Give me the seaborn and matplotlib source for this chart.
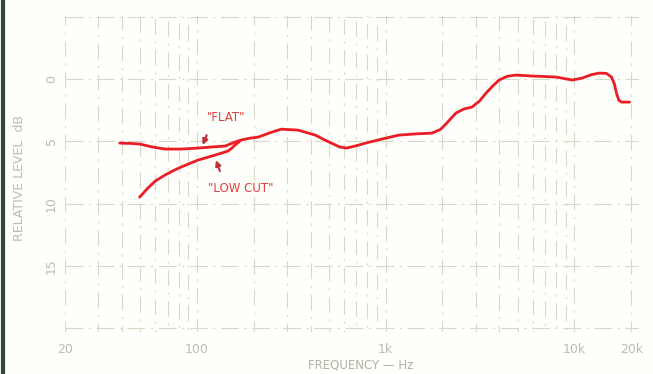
import numpy as np
import pandas as pd
import matplotlib
matplotlib.use("Agg")
import matplotlib.pyplot as plt
from matplotlib.lines import Line2D
import seaborn as sns

# -----------------------------
# Data
# -----------------------------
flat_hz = [39, 45, 50, 58, 68, 82, 101, 120, 141, 159, 171, 190, 211, 245, 280,
           344, 424, 470, 516, 570, 620, 700, 783, 952, 1173, 1450, 1757, 1950,
           2085, 2356, 2600, 2866, 3150, 3404, 3700, 3991, 4400, 4914, 5980,
           7000, 8017, 9752, 11030, 12300, 13590, 14800, 15730, 16300, 16710,
           17200, 17780, 19620]
flat_db = [-5.14, -5.17, -5.22, -5.45, -5.62, -5.62, -5.54, -5.45, -5.38, -5.06,
           -4.90, -4.75, -4.66, -4.30, -4.02, -4.10, -4.50, -4.85, -5.14, -5.45,
           -5.54, -5.35, -5.14, -4.82, -4.50, -4.40, -4.34, -4.05, -3.61, -2.73,
           -2.40, -2.25, -1.75, -1.12, -0.55, -0.08, 0.22, 0.32, 0.24, 0.20, 0.16,
           -0.08, 0.08, 0.35, 0.48, 0.45, 0.16, -0.40, -1.12, -1.70, -1.85, -1.85]

lowcut_hz = [49.7, 54.9, 60, 67.6, 75, 82.2, 101, 125, 146, 153, 159, 169]
lowcut_db = [-9.48, -8.76, -8.20, -7.71, -7.35, -7.07, -6.51, -6.10, -5.78,
             -5.55, -5.30, -4.98]

x_ticks = [20, 100, 1000, 10000, 20000]
x_tick_labels = ["20", "100", "1k", "10k", "20k"]
y_ticks = [0, -5, -10, -15]
y_tick_labels = ["0", "5", "10", "15"]

df = pd.concat([
    pd.DataFrame({"hz": flat_hz, "db": flat_db, "curve": "FLAT"}),
    pd.DataFrame({"hz": lowcut_hz, "db": lowcut_db, "curve": "LOW CUT"}),
])

# -----------------------------
# Figure
# -----------------------------
sns.set_style("white")
plt.rcParams["font.family"] = ["DejaVu Sans"]

fig = plt.figure(figsize=(6.53, 3.74), dpi=100, facecolor="#fefefb")
ax = fig.add_axes([65 / 653, 1 - 332 / 374, (639 - 65) / 653, (332 - 15) / 374])
ax.set_facecolor("#fefefb")

grid_col = "#d8d8c8"
# log grid, vertical (broken, like the printed chart)
for dec in [10, 100, 1000, 10000]:
    for m in range(1, 10):
        f = dec * m
        if 20 <= f <= 20000:
            ax.axvline(f, color=grid_col, lw=0.8, ls=(m * 2, (14, 6, 2, 6)),
                       zorder=0)
for y in [5, 0, -5, -10, -15, -20]:
    ax.axhline(y, color=grid_col, lw=0.8, ls=(0, (16, 5, 2, 5)), zorder=0)

red = "#ec1c24"
sns.lineplot(data=df, x="hz", y="db", units="curve", estimator=None, sort=False,
             color=red, lw=2.0, ax=ax, legend=False, zorder=3,
             solid_joinstyle="round", solid_capstyle="round")

ax.set_xscale("log")
ax.set_xlim(20, 22000)
ax.set_ylim(-20.3, 5.14)

for s in ax.spines.values():
    s.set_visible(False)

ax.set_xticks(x_ticks)
ax.set_xticklabels(x_tick_labels)
ax.xaxis.set_minor_locator(matplotlib.ticker.NullLocator())
ax.set_yticks(y_ticks)
ax.set_yticklabels(y_tick_labels, rotation=90, va="center")
ax.tick_params(axis="both", length=0, colors="#bcbcb0", labelsize=9)
ax.tick_params(axis="x", pad=8)
ax.tick_params(axis="y", pad=5)
ax.set_xlabel("")
ax.set_ylabel("")

fig.text(361 / 653, 1 - 365 / 374, "FREQUENCY \u2014 Hz", ha="center", va="center",
         fontsize=8.5, color="#b0b0a4")
fig.text(20 / 653, 1 - 178 / 374, "RELATIVE LEVEL  dB", ha="center", va="center",
         rotation=90, fontsize=9, color="#bcbcb0")

# annotations
lab_col = "#e04040"
ax.text(142.7, -3.05, "\"FLAT\"", color=lab_col, fontsize=8.5, ha="center",
        va="center")
ax.annotate("", xy=(106, -5.5), xytext=(114, -4.3),
            arrowprops=dict(arrowstyle="-|>", color="#c0303a", lw=1.5,
                            mutation_scale=8))
ax.text(171.4, -8.76, "\"LOW CUT\"", color=lab_col, fontsize=8.5, ha="center",
        va="center")
ax.annotate("", xy=(124.7, -6.3), xytext=(134, -7.6),
            arrowprops=dict(arrowstyle="-|>", color="#c0303a", lw=1.5,
                            mutation_scale=8))

# dark scan edge on the left
fig.add_artist(Line2D([3 / 653, 3 / 653], [0, 1], color="#36443a", lw=3,
                      transform=fig.transFigure))

plt.savefig("out.png", dpi=100, facecolor=fig.get_facecolor())
